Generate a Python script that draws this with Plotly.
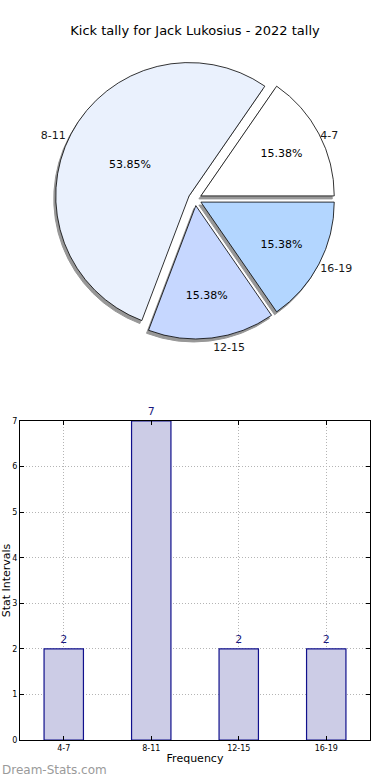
import plotly.graph_objects as go

categories = ["4-7", "8-11", "12-15", "16-19"]
counts = [2, 7, 2, 2]
slice_colors = ["#FFFFFF", "#EAF1FD", "#C6D7FF", "#B3D6FF"]
y_ticks = [0, 1, 2, 3, 4, 5, 6, 7]

W, H = 390, 780
def py(p):
    return 1 - p / H
def px(p):
    return p / W

fig = go.Figure()

# pie geometry (pixels)
pie_top, pie_bot = 59, 339
pie_left, pie_right = 20, 370
pull = [0.05] * len(counts)
# matplotlib-style start: first slice begins at 3 o'clock and runs counterclockwise
rotation = 90 - 360.0 * counts[0] / sum(counts)

# shadow pie
sdx, sdy = -2, 3
fig.add_trace(go.Pie(
    labels=categories, values=counts, sort=False, direction="counterclockwise",
    rotation=rotation, pull=pull,
    marker=dict(colors=["#8c8c8c"] * 4, line=dict(color="#8c8c8c", width=1)),
    domain=dict(x=[px(pie_left + sdx), px(pie_right + sdx)], y=[py(pie_bot + sdy), py(pie_top + sdy)]),
    texttemplate="%{label}", textposition="outside",
    textfont=dict(family="DejaVu Sans", size=11, color="#000000"),
    showlegend=False, hoverinfo="skip", opacity=0.9, automargin=False,
))
# main pie
fig.add_trace(go.Pie(
    labels=categories, values=counts, sort=False, direction="counterclockwise",
    rotation=rotation, pull=pull,
    marker=dict(colors=slice_colors, line=dict(color="#000000", width=0.8)),
    domain=dict(x=[px(pie_left), px(pie_right)], y=[py(pie_bot), py(pie_top)]),
    texttemplate="%{percent:.2%}", textposition="inside", insidetextorientation="horizontal",
    textfont=dict(family="DejaVu Sans", size=11, color="#000000"),
    showlegend=False, automargin=False,
))

# bar chart
fig.add_trace(go.Bar(
    x=categories, y=counts, width=0.45,
    marker=dict(color="#CCCCE6", line=dict(color="#10108C", width=1.2)),
    text=[str(c) for c in counts], textposition="outside", cliponaxis=False,
    textfont=dict(family="DejaVu Sans", size=11, color="#1a1a80"),
    showlegend=False, xaxis="x", yaxis="y",
))

axis_common = dict(
    showline=True, linecolor="#000000", linewidth=1, mirror="allticks",
    ticks="inside", ticklen=4, tickcolor="#000000",
    showgrid=True, gridcolor="#b4b4b4", griddash="1px,2px", gridwidth=1,
    tickfont=dict(family="DejaVu Sans", size=8, color="#000000"),
    zeroline=False, automargin=False,
)

fig.update_layout(
    width=W, height=H,
    margin=dict(l=0, r=0, t=0, b=0, autoexpand=False),
    paper_bgcolor="#FFFFFF", plot_bgcolor="#FFFFFF",
    font=dict(family="DejaVu Sans", color="#000000"),
    title=dict(text="Kick tally for Jack Lukosius - 2022 tally", x=0.5, xanchor="center",
               y=py(30), yanchor="middle", font=dict(size=13, color="#000000"), automargin=False),
    xaxis=dict(domain=[px(20), px(370)], anchor="y", range=[-0.5, 3.5], type="category",
               title=dict(text="Frequency", font=dict(size=11), standoff=2), **axis_common),
    yaxis=dict(domain=[py(740), py(421)], anchor="x", range=[0, 7], tickvals=y_ticks,
               title=dict(text="Stat Intervals", font=dict(size=11), standoff=3), **axis_common),
    bargap=0.55,
    annotations=[dict(text="Dream-Stats.com", xref="paper", yref="paper", x=0, y=py(770),
                      xanchor="left", yanchor="middle", showarrow=False,
                      font=dict(family="DejaVu Sans", size=12, color="#9a9a9a"))],
)

fig.write_html(
    "out.html",
    config={"displayModeBar": False},
    post_script="document.body.style.margin='0';document.body.style.padding='0';"
                "document.body.style.overflow='hidden';document.documentElement.style.overflow='hidden';",
)
